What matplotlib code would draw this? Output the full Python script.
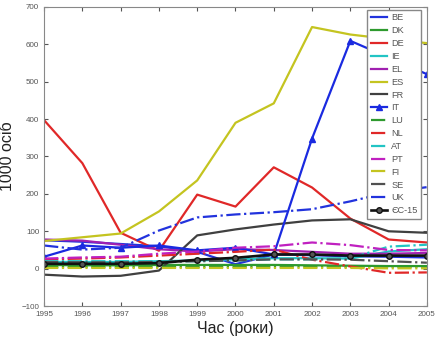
import numpy as np
import matplotlib
matplotlib.use("Agg")
import matplotlib.pyplot as plt

plt.rcParams["font.family"] = ["Liberation Sans", "DejaVu Sans"]

years = np.arange(1995, 2006)

BE = [76, 72, 66, 60, 45, 12, 38, 36, 33, 32, 30]
DK = [10, 9, 9, 10, 10, 10, 10, 9, 8, 7, 7]
DE = [397, 282, 96, 48, 198, 166, 271, 217, 134, 78, 70]
IE = [18, 18, 18, 20, 22, 25, 28, 28, 27, 46, 52]
EL = [78, 75, 64, 52, 46, 52, 50, 45, 40, 40, 42]
ES = [74, 84, 94, 153, 236, 390, 442, 646, 626, 614, 603]
FR = [-16, -21, -19, -5, 89, 105, 118, 129, 132, 100, 96]
IT = [32, 62, 56, 62, 49, 56, 38, 348, 609, 565, 520]
LU = [5, 5, 5, 5, 5, 5, 6, 6, 5, 5, 5]
NL = [25, 27, 30, 35, 40, 45, 51, 24, 6, -11, -10]
AT = [20, 20, 20, 20, 20, 22, 25, 25, 28, 59, 64]
PT = [27, 30, 32, 40, 46, 56, 60, 70, 63, 50, 49]
FI = [2, 2, 2, 2, 2, 2, 2, 2, 2, 1, 1]
SE = [18, 17, 17, 18, 20, 22, 25, 25, 24, 20, 16]
UK = [62, 51, 56, 102, 137, 145, 151, 159, 180, 204, 218]
EC15 = [13, 13, 13, 15, 24, 29, 38, 38, 35, 35, 35]

fig = plt.figure(figsize=(4.41, 3.42), dpi=100)
ax = fig.add_axes([0.1, 0.105, 0.868, 0.875])

lw = 1.6
ax.plot(years, BE, color="#2233dd", lw=lw, label="BE")
ax.plot(years, DK, color="#2e9a2e", lw=lw, label="DK")
ax.plot(years, DE, color="#e02828", lw=lw, label="DE")
ax.plot(years, IE, color="#22c4c4", lw=lw, label="IE")
ax.plot(years, EL, color="#a020b0", lw=lw, label="EL")
ax.plot(years, ES, color="#c4c420", lw=lw, label="ES")
ax.plot(years, FR, color="#404040", lw=lw, label="FR")
ax.plot(years, IT, color="#1a2ae0", lw=lw, marker="^", ms=5, label="IT")
ax.plot(years, LU, color="#2e9a2e", lw=lw, ls="-.", label="LU")
ax.plot(years, NL, color="#e02828", lw=lw, ls="-.", label="NL")
ax.plot(years, AT, color="#22c4c4", lw=lw, ls="-.", label="AT")
ax.plot(years, PT, color="#c020c0", lw=lw, ls="-.", label="PT")
ax.plot(years, FI, color="#c4c420", lw=lw, ls="-.", label="FI")
ax.plot(years, SE, color="#505050", lw=lw, ls="-.", label="SE")
ax.plot(years, UK, color="#2233dd", lw=lw, ls="-.", label="UK")
ax.plot(years, EC15, color="#111111", lw=lw + 0.3, marker="o", ms=4,
        mfc="#555555", label="ЄС-15")

ax.set_xlim(1995, 2005)
ax.set_ylim(-100, 700)
ax.set_xticks(years)
ax.set_yticks(np.arange(-100, 701, 100))
ax.tick_params(labelsize=5.8, colors="#555555", direction="in", top=True, right=True, length=3)
for s in ax.spines.values():
    s.set_color("#888888")

ax.set_xlabel("Час (роки)", fontsize=11.5, color="#222222", labelpad=2)
ax.set_ylabel("1000 осіб", fontsize=11.5, color="#222222")
ax.yaxis.set_label_coords(-0.075, 0.5)

leg = ax.legend(loc="upper right", fontsize=6.6, handlelength=1.7, handletextpad=0.5,
                labelspacing=0.42, borderpad=0.4, borderaxespad=0, fancybox=False,
                framealpha=1, bbox_to_anchor=(0.985, 0.99))
leg.get_frame().set_edgecolor("#888888")
for t in leg.get_texts():
    t.set_color("#555555")

fig.savefig("out.png", dpi=100)
